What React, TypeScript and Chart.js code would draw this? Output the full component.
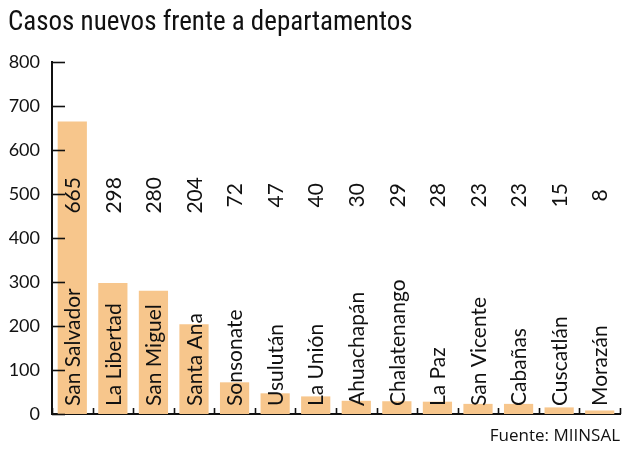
import React, { useEffect, useRef } from "react";
import { Chart, registerables } from "chart.js";

Chart.register(...registerables);

const titulo = "Casos nuevos frente a departamentos";
const fuente = "Fuente: MIINSAL";
const departamentos = [
  "San Salvador",
  "La Libertad",
  "San Miguel",
  "Santa Ana",
  "Sonsonate",
  "Usulután",
  "La Unión",
  "Ahuachapán",
  "Chalatenango",
  "La Paz",
  "San Vicente",
  "Cabañas",
  "Cuscatlán",
  "Morazán",
];
const casos = [665, 298, 280, 204, 72, 47, 40, 30, 29, 28, 23, 23, 15, 8];
const yMin = 0;
const yMax = 800;
const yStep = 100;
const valueLabelLevel = 497;

const BAR_COLOR = "#F7C68C";
const LABEL_FONT = "21px Lato, 'Noto Sans', sans-serif";
const TITLE_FAMILY = "'Liberation Sans Narrow', 'Roboto Condensed', Roboto, sans-serif";

const barTextPlugin = {
  id: "barText",
  afterDatasetsDraw(chart: any) {
    const { ctx } = chart;
    const x = chart.scales.x;
    const y = chart.scales.y;
    const meta = chart.getDatasetMeta(0);
    ctx.save();
    ctx.fillStyle = "#111";
    ctx.font = LABEL_FONT;
    meta.data.forEach((bar: any, i: number) => {
      const cx = bar.x + 1;
      ctx.save();
      ctx.translate(cx, y.getPixelForValue(0) - 8);
      ctx.rotate(-Math.PI / 2);
      ctx.textAlign = "left";
      ctx.textBaseline = "middle";
      ctx.fillText(departamentos[i], 0, 0);
      ctx.restore();

      ctx.save();
      ctx.translate(cx, y.getPixelForValue(valueLabelLevel));
      ctx.rotate(-Math.PI / 2);
      ctx.textAlign = "center";
      ctx.textBaseline = "middle";
      ctx.fillText(String(casos[i]), 0, 0);
      ctx.restore();
    });

    ctx.strokeStyle = "#111";
    ctx.lineWidth = 1.6;
    // inward y ticks
    for (let v = yMin; v <= yMax; v += yStep) {
      const py = Math.round(y.getPixelForValue(v)) + 0.5;
      ctx.beginPath();
      ctx.moveTo(x.left, py);
      ctx.lineTo(x.left + 13, py);
      ctx.stroke();
    }
    // inward x ticks at category boundaries
    const n = departamentos.length;
    for (let i = 0; i <= n; i++) {
      const px = Math.round(x.left + (i * (x.right - x.left)) / n) + 0.5;
      ctx.beginPath();
      ctx.moveTo(px, y.bottom);
      ctx.lineTo(px, y.bottom - 6);
      ctx.stroke();
    }
    ctx.restore();
  },
};

export default function App() {
  const ref = useRef<HTMLCanvasElement | null>(null);

  useEffect(() => {
    if (!ref.current) return;
    const chart = new Chart(ref.current, {
      type: "bar",
      data: {
        labels: departamentos,
        datasets: [
          {
            data: casos,
            backgroundColor: BAR_COLOR,
            borderWidth: 0,
            barPercentage: 0.72,
            categoryPercentage: 1,
          },
        ],
      },
      options: {
        animation: false,
        responsive: false,
        maintainAspectRatio: false,
        layout: { padding: { left: 8, right: 7, top: 0, bottom: 0 } },
        plugins: {
          legend: { display: false },
          tooltip: { enabled: false },
          title: {
            display: true,
            text: titulo,
            align: "start",
            color: "#111",
            font: { family: TITLE_FAMILY, size: 27, weight: "normal" },
            padding: { top: 7, bottom: 22.6 },
          },
          subtitle: {
            display: true,
            text: fuente,
            position: "bottom",
            align: "end",
            color: "#111",
            font: { family: "'Open Sans', sans-serif", size: 17, weight: "normal" },
            padding: { top: 12, bottom: 4.6 },
          },
        },
        scales: {
          x: {
            grid: { display: false },
            border: { display: true, color: "#111", width: 2 },
            ticks: { display: false },
            afterFit: (s: any) => {
              s.height = 0;
            },
          },
          y: {
            min: yMin,
            max: yMax,
            grid: { display: false, drawTicks: false },
            border: { display: true, color: "#111", width: 2 },
            ticks: {
              stepSize: yStep,
              color: "#111",
              padding: 12,
              font: { family: "Lato, sans-serif", size: 18 },
            },
            afterFit: (s: any) => {
              s.width = 44;
            },
          },
        },
      },
      plugins: [barTextPlugin],
    });
    return () => chart.destroy();
  }, []);

  return (
    <div style={{ position: "fixed", left: 0, top: 0, width: 627, height: 451, background: "#fff" }}>
      <canvas ref={ref} width={627} height={451} style={{ display: "block" }} />
    </div>
  );
}
